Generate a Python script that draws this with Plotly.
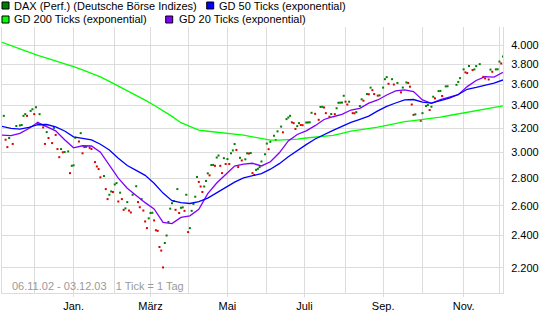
import math
import pandas as pd
import plotly.graph_objects as go

# ---------------- data ----------------
start_day = "2002-11-06"
end_day = "2003-12-03"

# DAX daily closes (trading-day number counted from 06.11.02)
dax_tick = [1,2,3,4,6,8,10,11,12,13,14,16,17,18,19,20,21,23,24,25,26,28,29,30,31,32,33,34,35,37,38,39,40,41,43,44,45,46,47,49,50,52,53,54,55,57,58,59,60,61,62,63,64,65,66,67,68,69,70,71,72,73,75,76,77,78,79,80,81,82,83,84,85,86,87,88,89,90,91,92,93,94,95,96,97,98,99,100,101,102,103,104,105,106,107,108,109,110,111,112,113,114,115,116,117,118,119,120,121,122,123,124,125,126,127,128,129,130,131,132,133,134,136,137,138,139,140,141,142,143,144,145,147,148,149,150,152,153,154,156,157,159,160,161,162,163,164,165,166,167,168,170,171,172,173,175,177,178,179,180,181,183,184,186,187,188,189,190,191,192,193,194,196,197,198,200,201,202,204,205,206,207,208,210,211,213,214,215,216,218,219,221,223,224,226,227,228,229,230,231,234,235,237,238,239,240,241,242,244,245,246,248,249,254,255,256,258,259,260,261,263,264,265,267,269,270,272,273,274,276,277,278,279,280]
dax_value = [3308,3103,3042,3117,3068,3219,3224,3228,3308,3323,3308,3352,3367,3323,3385,3247,3323,3207,3068,3167,3117,3075,3203,3143,3026,2961,3026,3000,3002,3007,2837,2893,2897,3119,3088,3158,2992,3042,3044,3036,3027,2922,2888,2868,2805,2815,2718,2646,2677,2701,2697,2752,2762,2629,2692,2646,2571,2581,2625,2566,2553,2677,2739,2625,2589,2646,2566,2492,2448,2513,2549,2551,2499,2434,2430,2327,2305,2203,2352,2400,2489,2579,2617,2632,2571,2718,2549,2585,2588,2564,2677,2422,2448,2564,2612,2663,2808,2771,2737,2697,2737,2778,2835,2820,2899,2900,2893,2958,2974,2893,2837,2953,2907,2946,2907,2992,3015,3067,3019,2883,2956,2935,2944,2992,2990,2994,2837,2823,2862,2870,2883,2927,2984,3071,3025,3086,3136,3100,3173,3214,3165,3279,3293,3308,3251,3244,3194,3218,3244,3228,3226,3249,3250,3251,3335,3326,3273,3388,3389,3383,3332,3300,3324,3323,3376,3426,3427,3428,3491,3436,3410,3436,3332,3331,3341,3396,3458,3445,3507,3505,3568,3544,3507,3492,3495,3568,3650,3670,3605,3650,3598,3613,3523,3569,3618,3613,3577,3410,3317,3321,3264,3332,3396,3405,3360,3390,3482,3467,3535,3537,3489,3580,3581,3595,3623,3660,3747,3717,3710,3780,3740,3747,3780,3800,3673,3657,3647,3745,3723,3747,3748,3826,3807,3879]

# moving averages, sampled weekly (every Wednesday)
gd200 = [4029,3992,3957,3921,3890,3861,3834,3806,3774,3741,3707,3673,3629,3585,3542,3498,3450,3403,3356,3303,3248,3216,3184,3174,3167,3160,3154,3141,3127,3114,3100,3100,3101,3108,3117,3125,3133,3139,3157,3176,3186,3195,3209,3225,3243,3257,3266,3275,3283,3297,3311,3326,3340,3355,3369,3384,3398]
gd50 = [3216,3198,3193,3207,3230,3232,3212,3176,3127,3111,3101,3065,3018,2953,2895,2858,2820,2761,2689,2635,2621,2615,2628,2653,2690,2730,2769,2801,2818,2833,2867,2910,2964,3014,3062,3109,3147,3182,3216,3250,3277,3306,3352,3393,3424,3452,3456,3431,3423,3443,3469,3503,3552,3570,3588,3611,3642]
gd20 = [3142,3137,3156,3198,3249,3216,3178,3102,3036,3053,3051,3001,2899,2799,2724,2670,2621,2577,2486,2478,2519,2530,2574,2685,2763,2827,2891,2907,2913,2892,2925,2996,3093,3147,3178,3222,3276,3300,3321,3360,3375,3423,3452,3498,3537,3547,3530,3452,3421,3454,3480,3501,3578,3637,3675,3670,3717]

month_ticks = ["2003-01-01", "2003-03-03", "2003-05-01", "2003-07-01", "2003-09-01", "2003-11-03"]
month_labels = ["Jan.", "März", "Mai", "Juli", "Sep.", "Nov."]
month_grid = ["2002-12-02", "2003-01-01", "2003-02-03", "2003-03-03", "2003-04-01", "2003-05-01",
              "2003-06-02", "2003-07-01", "2003-08-01", "2003-09-01", "2003-10-01", "2003-11-03",
              "2003-12-01"]
y_ticks = [2200, 2400, 2600, 2800, 3000, 3200, 3400, 3600, 3800, 4000]
y_labels = ["2.200", "2.400", "2.600", "2.800", "3.000", "3.200", "3.400", "3.600", "3.800", "4.000"]

legend_names = ["DAX (Perf.) (Deutsche Börse Indizes)", "GD 50 Ticks (exponential)",
                "GD 200 Ticks (exponential)", "GD 20 Ticks (exponential)"]
footer_text = "06.11.02 - 03.12.03\u00a0\u00a0 1 Tick = 1 Tag"

# ---------------- build ----------------
bdays = pd.bdate_range(start_day, end_day)
dax_dates = [bdays[t] for t in dax_tick]
week_dates = pd.date_range(start_day, end_day, freq="7D")

C_UP = "#008000"
C_DOWN = "#dd0000"
C_GD50 = "#0000ff"
C_GD200 = "#00ff00"
C_GD20 = "#8000ff"
GRID = "#dcdcdc"
FONT = "Liberation Sans, Arial, sans-serif"

dot_colors = []
prev = None
for v in dax_value:
    dot_colors.append(C_UP if (prev is None or v >= prev) else C_DOWN)
    prev = v

fig = go.Figure()
fig.add_trace(go.Scatter(x=dax_dates, y=dax_value, mode="markers",
                         marker=dict(symbol="square", size=2, color=dot_colors, line=dict(width=0)),
                         showlegend=False, hoverinfo="skip"))
fig.add_trace(go.Scatter(x=week_dates, y=gd200, mode="lines", line=dict(color=C_GD200, width=1.3),
                         showlegend=False))
fig.add_trace(go.Scatter(x=week_dates, y=gd20, mode="lines", line=dict(color=C_GD20, width=1.3),
                         showlegend=False))
fig.add_trace(go.Scatter(x=week_dates, y=gd50, mode="lines", line=dict(color=C_GD50, width=1.3),
                         showlegend=False))

W, H = 545, 335
ML, MR, MT, MB = 2, 42, 27, 42
PW, PH = W - ML - MR, H - MT - MB


def px(x):
    return (x - ML) / PW


def py(y):
    return (H - MB - y) / PH


shapes = []
annotations = []
legend_items = [
    (2, 5.5, 12.3, C_UP, legend_names[0]),
    (206.7, 5.5, 217.3, C_GD50, legend_names[1]),
    (2, 19.5, 12.3, C_GD200, legend_names[2]),
    (165.7, 19.5, 177, C_GD20, legend_names[3]),
]
for sx, cy, tx, col, name in legend_items:
    shapes.append(dict(type="rect", xref="paper", yref="paper",
                       x0=px(sx), x1=px(sx + 7), y0=py(cy + 3.5), y1=py(cy - 3.5),
                       fillcolor=col, line=dict(color="black", width=1)))
    annotations.append(dict(xref="paper", yref="paper", x=px(tx), y=py(cy), text=name,
                            showarrow=False, xanchor="left", yanchor="middle",
                            font=dict(family=FONT, size=11, color="black")))
annotations.append(dict(xref="paper", yref="paper", x=px(10), y=py(285.7), text=footer_text,
                        showarrow=False, xanchor="left", yanchor="middle",
                        font=dict(family=FONT, size=11, color="#9a9a9a")))

fig.update_layout(
    width=W, height=H,
    margin=dict(l=ML, r=MR, t=MT, b=MB, pad=0),
    paper_bgcolor="white", plot_bgcolor="white",
    font=dict(family=FONT, size=11, color="black"),
    showlegend=False,
    shapes=shapes,
    annotations=annotations,
    xaxis=dict(
        type="date",
        range=[start_day, end_day],
        rangebreaks=[dict(bounds=["sat", "mon"])],
        tickmode="array", tickvals=month_ticks, ticktext=month_labels,
        showgrid=True, gridcolor=GRID, gridwidth=1,
        ticks="outside", ticklen=3, tickcolor=GRID,
        showline=True, linecolor=GRID, linewidth=1,
        minor=dict(tickmode="array", tickvals=month_grid, showgrid=True, gridcolor=GRID, ticks=""),
        tickfont=dict(family=FONT, size=11, color="black"),
        zeroline=False, fixedrange=True,
    ),
    yaxis=dict(
        type="log",
        range=[math.log10(2057), math.log10(4198)],
        side="right",
        tickmode="array", tickvals=y_ticks, ticktext=y_labels,
        showgrid=True, gridcolor=GRID, gridwidth=1,
        ticks="", ticklabelstandoff=5,
        showline=True, mirror=True, linecolor=GRID, linewidth=1,
        tickfont=dict(family=FONT, size=11, color="black"),
        zeroline=False, fixedrange=True,
    ),
)

fig.write_html("out.html")
